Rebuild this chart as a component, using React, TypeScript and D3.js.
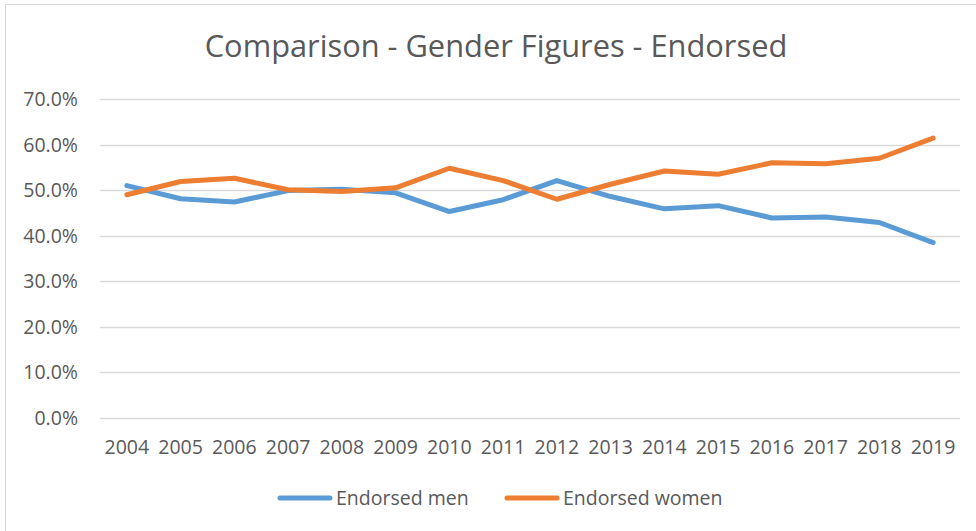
import { useEffect, useRef } from "react";
import * as d3 from "d3";

const years = [
  "2004", "2005", "2006", "2007", "2008", "2009", "2010", "2011",
  "2012", "2013", "2014", "2015", "2016", "2017", "2018", "2019",
];
const endorsedMen = [
  0.51, 0.481, 0.474, 0.499, 0.502, 0.494, 0.453, 0.479,
  0.521, 0.486, 0.459, 0.466, 0.439, 0.441, 0.429, 0.385,
];
const endorsedWomen = [
  0.49, 0.519, 0.526, 0.501, 0.497, 0.505, 0.548, 0.521,
  0.48, 0.513, 0.542, 0.535, 0.56, 0.558, 0.57, 0.614,
];
const yTicks = [0, 0.1, 0.2, 0.3, 0.4, 0.5, 0.6, 0.7];

const series = [
  { name: "Endorsed men", values: endorsedMen, color: "#5b9bd5" },
  { name: "Endorsed women", values: endorsedWomen, color: "#ed7d31" },
];

const width = 976;
const height = 531;
const font = "'Open Sans', sans-serif";
const textColor = "#595959";

const GenderChart = () => {
  const ref = useRef<SVGSVGElement | null>(null);

  useEffect(() => {
    const svg = d3.select(ref.current);
    svg.selectAll("*").remove();

    const margin = { top: 99, right: 16, bottom: 113, left: 100 };

    // chart frame (right/bottom edges run off the page like the original)
    svg
      .append("rect")
      .attr("x", 5.5)
      .attr("y", 4.5)
      .attr("width", width + 20)
      .attr("height", height + 20)
      .attr("fill", "#fff")
      .attr("stroke", "#d9d9d9");

    svg
      .append("text")
      .attr("x", 496)
      .attr("y", 57)
      .attr("text-anchor", "middle")
      .attr("font-family", font)
      .attr("font-size", "30.8px")
      .attr("fill", textColor)
      .text("Comparison - Gender Figures - Endorsed");

    const x = d3
      .scaleBand<string>()
      .domain(years)
      .range([margin.left, width - margin.right])
      .padding(0);

    const y = d3
      .scaleLinear()
      .domain([0, 0.7])
      .range([height - margin.bottom, margin.top]);

    const cx = (d: string) => x(d)! + x.bandwidth() / 2;

    // gridlines
    svg
      .append("g")
      .selectAll("line")
      .data(yTicks)
      .join("line")
      .attr("x1", margin.left)
      .attr("x2", width - margin.right)
      .attr("y1", (d) => Math.round(y(d)) + 0.5)
      .attr("y2", (d) => Math.round(y(d)) + 0.5)
      .attr("stroke", "#d9d9d9")
      .attr("stroke-width", 1.3);

    svg
      .append("g")
      .selectAll("text")
      .data(yTicks)
      .join("text")
      .attr("x", 78)
      .attr("y", (d) => y(d))
      .attr("dy", "0.36em")
      .attr("text-anchor", "end")
      .attr("font-family", font)
      .attr("font-size", "19.5px")
      .attr("fill", textColor)
      .text((d) => d3.format(".1%")(d));

    svg
      .append("g")
      .selectAll("text")
      .data(years)
      .join("text")
      .attr("x", (d) => cx(d))
      .attr("y", 454)
      .attr("text-anchor", "middle")
      .attr("font-family", font)
      .attr("font-size", "19.5px")
      .attr("fill", textColor)
      .text((d) => d);

    const line = d3
      .line<number>()
      .x((_, i) => cx(years[i]))
      .y((d) => y(d));

    svg
      .append("g")
      .selectAll("path")
      .data(series)
      .join("path")
      .attr("d", (s) => line(s.values))
      .attr("fill", "none")
      .attr("stroke", (s) => s.color)
      .attr("stroke-width", 5)
      .attr("stroke-linejoin", "round")
      .attr("stroke-linecap", "round");

    // legend
    const legendX = [280, 507];
    const legend = svg
      .append("g")
      .selectAll("g")
      .data(series)
      .join("g")
      .attr("transform", (_, i) => `translate(${legendX[i]},498)`);

    legend
      .append("line")
      .attr("x1", 0)
      .attr("x2", 50)
      .attr("stroke", (s) => s.color)
      .attr("stroke-width", 5)
      .attr("stroke-linecap", "round");

    legend
      .append("text")
      .attr("x", 56)
      .attr("y", 7)
      .attr("font-family", font)
      .attr("font-size", "19.5px")
      .attr("fill", textColor)
      .text((s) => s.name);
  }, []);

  return (
    <svg
      ref={ref}
      width={width}
      height={height}
      style={{ position: "absolute", left: 0, top: 0, display: "block" }}
    />
  );
};

export default function App() {
  return <GenderChart />;
}
